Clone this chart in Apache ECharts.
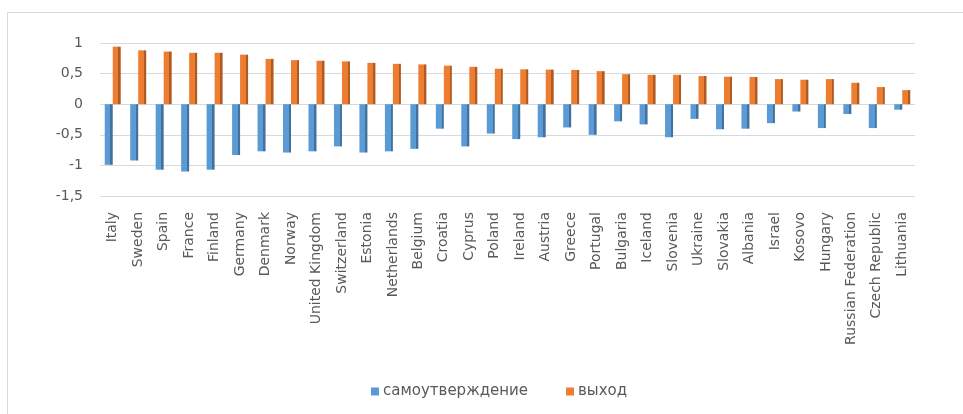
<!DOCTYPE html>
<html>
<head>
<meta charset="utf-8">
<script src="https://cdn.jsdelivr.net/npm/echarts@6/dist/echarts.min.js"></script>
<style>
html,body{margin:0;padding:0;background:#fff;}
#chart{width:963px;height:414px;}
</style>
</head>
<body>
<div id="chart"></div>
<script>
var categories = ['Italy','Sweden','Spain','France','Finland','Germany','Denmark','Norway','United Kingdom','Switzerland','Estonia','Netherlands','Belgium','Croatia','Cyprus','Poland','Ireland','Austria','Greece','Portugal','Bulgaria','Iceland','Slovenia','Ukraine','Slovakia','Albania','Israel','Kosovo','Hungary','Russian Federation','Czech Republic','Lithuania'];
var selfAssertion = [-0.99,-0.92,-1.07,-1.10,-1.07,-0.83,-0.77,-0.79,-0.77,-0.69,-0.79,-0.77,-0.73,-0.40,-0.69,-0.48,-0.57,-0.54,-0.38,-0.50,-0.28,-0.33,-0.54,-0.24,-0.41,-0.40,-0.31,-0.12,-0.39,-0.16,-0.39,-0.09];
var exitValues = [0.94,0.88,0.86,0.84,0.84,0.81,0.74,0.72,0.71,0.70,0.675,0.66,0.65,0.63,0.61,0.58,0.57,0.565,0.56,0.54,0.49,0.48,0.48,0.46,0.45,0.445,0.41,0.40,0.41,0.35,0.28,0.23];
var seriesNames = ['самоутверждение','выход'];
var yTicks = {min:-1.5, max:1, interval:0.5};

function faceGradient(front, side){
  return new echarts.graphic.LinearGradient(0,0,1,0,[
    {offset:0,color:front},{offset:0.72,color:front},
    {offset:0.72,color:side},{offset:1,color:side}
  ]);
}

var chart = echarts.init(document.getElementById('chart'), null, {renderer:'canvas'});
var font = 'DejaVu Sans';
chart.setOption({
  animation:false,
  backgroundColor:'#ffffff',
  graphic:[{
    type:'rect', shape:{x:7.5,y:12.5,width:980,height:420},
    style:{fill:'none',stroke:'#d9d9d9',lineWidth:1}, silent:true
  }],
  grid:{left:100,width:815,top:43,height:153,containLabel:false},
  legend:{
    data:[
      {name:seriesNames[0], itemStyle:{color:'#5b9bd5'}},
      {name:seriesNames[1], itemStyle:{color:'#ed7d31'}}
    ],
    left:366, top:379,
    itemWidth:8, itemHeight:8, itemGap:38,
    icon:'rect',
    textStyle:{fontFamily:font,fontSize:15,color:'#595959',padding:[0,0,0,-1]}
  },
  xAxis:{
    type:'category', data:categories,
    axisLine:{show:false,onZero:false}, axisTick:{show:false},
    axisLabel:{rotate:90, interval:0, margin:16, fontFamily:font, fontSize:14, color:'#595959'},
    splitLine:{show:false}
  },
  yAxis:{
    type:'value', min:yTicks.min, max:yTicks.max, interval:yTicks.interval,
    axisLine:{show:false}, axisTick:{show:false},
    axisLabel:{margin:17, fontFamily:font, fontSize:14, color:'#595959',
      formatter:function(v){return String(v).replace('.',',');}},
    splitLine:{lineStyle:{color:'#d9d9d9',width:1}}
  },
  series:[
    {name:seriesNames[0], type:'bar', data:selfAssertion, barWidth:8, barGap:'0%',
     itemStyle:{color:faceGradient('#5b9bd5','#41719c')}},
    {name:seriesNames[1], type:'bar', data:exitValues, barWidth:8, barGap:'0%',
     itemStyle:{color:faceGradient('#ed7d31','#ae5a21')}}
  ]
});
</script>
</body>
</html>
